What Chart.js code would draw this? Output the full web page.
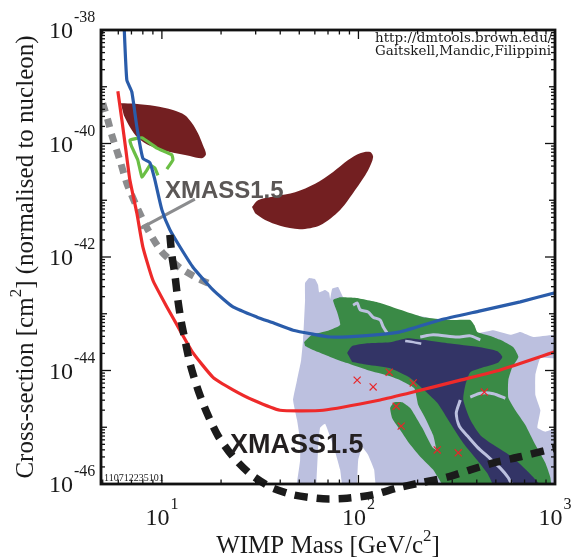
<!DOCTYPE html>
<html><head><meta charset="utf-8">
<script src="https://cdn.jsdelivr.net/npm/chart.js@4/dist/chart.umd.min.js"></script>
<style>html,body{margin:0;padding:0;background:#fff}canvas{display:block}</style>
</head><body>
<canvas id="c" width="571" height="557"></canvas>
<script>
// Axis ranges: WIMP mass [GeV/c^2] and cross-section [cm^2]
const massRange = [4.9, 1000];
const sigmaRange = [1e-46, 1e-38];
const massTicks = [10, 100, 1000];
const massTickExp = ['1', '2', '3'];
const sigmaTicks = [1e-38, 1e-40, 1e-42, 1e-44, 1e-46];
const sigmaTickExp = ['-38', '-40', '-42', '-44', '-46'];

// All curves and regions below: [mass in GeV, log10 of cross-section in cm^2]
const limitBlue = [[6.40,-37.8],[6.63,-38.88],[7.03,-39.09],[7.46,-39.71],[8.00,-40.26],[8.69,-40.34],[9.21,-40.64],[10.0,-41.17],[10.98,-41.52],[12.35,-41.82],[14.39,-42.18],[18.2,-42.58],[23.0,-42.88],[30.5,-43.06],[36.8,-43.16],[46.5,-43.29],[58.7,-43.36],[71.8,-43.41],[105.7,-43.39],[163,-43.32],[260.6,-43.11],[417,-42.95],[666,-42.79],[1000,-42.63]];
const limitRed = [[5.97,-39.08],[6.26,-39.59],[6.56,-40.12],[6.87,-40.64],[7.46,-41.23],[8.00,-41.82],[9.00,-42.41],[10.6,-42.88],[12.35,-43.29],[14.4,-43.69],[18.2,-44.12],[23.0,-44.34],[29.1,-44.52],[39.9,-44.70],[66.1,-44.70],[129,-44.52],[190,-44.38],[330,-44.17],[527,-43.99],[1000,-43.67]];
const xmassLowMass = [[5.0,-39.29],[5.31,-39.59],[5.56,-39.85],[6.11,-40.29],[6.63,-40.70],[7.46,-41.12],[8.49,-41.52],[10.0,-41.91],[12.35,-42.19],[15.1,-42.37],[17.98,-42.49]];
const xmassProjection = [[10.98,-41.61],[11.24,-41.97],[11.65,-42.32],[12.06,-42.76],[12.5,-43.11],[13.1,-43.46],[13.89,-43.87],[15.26,-44.34],[16.96,-44.75],[19.29,-45.15],[23.0,-45.52],[28.07,-45.82],[35.5,-46.05],[46.5,-46.19],[66.1,-46.26],[87.6,-46.25],[118.8,-46.19],[157.4,-46.07],[206.2,-45.98],[283.1,-45.88],[370.7,-45.75],[508.8,-45.61],[666.4,-45.52],[914.8,-45.40],[1000,-45.37]];
const damaLow = [[6.18,-39.29],[7.29,-39.30],[9.21,-39.34],[11.38,-39.41],[13.1,-39.50],[14.21,-39.64],[15.26,-39.82],[16.18,-40.03],[16.76,-40.19],[15.99,-40.26],[13.89,-40.22],[10.98,-40.15],[8.69,-40.04],[7.54,-39.90],[6.87,-39.71],[6.40,-39.50]];
const damaHigh = [[28.74,-41.12],[30.83,-41.00],[37.64,-40.93],[47.6,-40.86],[60.2,-40.71],[74.3,-40.50],[88.6,-40.29],[102.0,-40.17],[114.7,-40.15],[118.8,-40.24],[112.0,-40.47],[96.2,-40.82],[80.7,-41.17],[63.8,-41.44],[50.5,-41.51],[39.9,-41.45],[33.5,-41.35],[29.8,-41.23]];
const cogentContour = [[10.6,-40.45],[11.38,-40.29],[11.24,-40.20],[9.43,-40.08],[7.91,-39.90],[6.87,-39.94],[7.03,-40.06],[7.54,-40.29],[7.91,-40.59],[8.39,-40.47],[8.69,-40.38],[9.21,-40.43],[9.54,-40.56]];
const labelLeader = [[7.82,-41.49],[14.72,-40.98]];
const modelPoints = [[98.5,-44.17],[118.8,-44.29],[143.3,-44.03],[190.0,-44.22],[155.6,-44.63],[165.0,-44.98],[251.7,-45.40],[322.0,-45.45],[436.9,-44.38]];
const susyOuter = [[48.1,-46.1],[50.5,-45.58],[50.5,-45.23],[48.7,-44.87],[46.5,-44.52],[48.7,-44.17],[51.1,-43.82],[52.3,-43.46],[53.5,-42.76],[53.5,-42.46],[56.1,-42.37],[60.2,-42.39],[62.3,-42.49],[63.1,-42.62],[67.7,-42.58],[70.9,-42.63],[71.8,-42.74],[73.5,-42.56],[78.8,-42.53],[83.6,-42.71],[90.7,-42.76],[163.1,-42.97],[293.2,-43.15],[370.7,-43.25],[402.5,-43.34],[485.7,-43.29],[592.8,-43.37],[666.4,-43.32],[776.2,-43.41],[1050,-43.37],[1050,-43.78],[842.7,-43.78],[794.6,-44.08],[794.6,-44.43],[842.7,-44.70],[813.5,-45.01],[893.6,-45.08],[1050,-45.01],[1050,-46.1],[124.5,-46.1],[120.2,-45.75],[112.0,-45.49],[104.4,-45.35],[99.7,-45.58],[97.3,-46.1],[83.6,-46.1],[80.7,-45.75],[74.3,-45.31],[67.7,-44.94],[63.8,-45.01],[62.3,-45.40],[60.9,-46.1]];
const susyMiddle = [[52.9,-43.50],[58.1,-43.37],[70.1,-43.30],[80.7,-43.20],[77.9,-42.97],[74.3,-42.76],[80.7,-42.71],[96.2,-42.72],[129.0,-42.81],[163.1,-42.93],[213.6,-43.06],[303.7,-43.11],[370.7,-43.11],[388.6,-43.20],[402.5,-43.32],[468.9,-43.39],[527.0,-43.46],[613.8,-43.59],[651.0,-43.76],[606.7,-43.94],[578.8,-44.17],[578.8,-44.48],[628.4,-44.70],[706.8,-44.96],[794.6,-45.31],[893.6,-45.63],[947.6,-45.89],[947.6,-46.1],[283.1,-46.1],[240.1,-45.75],[206.2,-45.52],[179.1,-45.26],[163.1,-45.05],[148.5,-44.84],[145.0,-44.66],[152.0,-44.56],[167.0,-44.56],[183.4,-44.66],[192.2,-44.77],[211.1,-45.01],[237.3,-45.35],[248.8,-45.40],[240.1,-45.14],[218.7,-44.84],[201.4,-44.61],[192.2,-44.31],[163.1,-44.17],[145.0,-44.10],[110.7,-43.99],[87.6,-43.87],[71.8,-43.76],[58.8,-43.64],[53.5,-43.57]];
const susyCore = [[87.6,-43.69],[92.9,-43.57],[110.7,-43.52],[145.0,-43.50],[177.0,-43.43],[213.6,-43.46],[283.1,-43.52],[416.9,-43.59],[508.8,-43.66],[539.5,-43.76],[508.8,-43.87],[416.9,-43.96],[370.7,-44.03],[349.7,-44.26],[341.6,-44.52],[370.7,-44.87],[416.9,-45.14],[485.7,-45.31],[613.8,-45.54],[776.2,-45.88],[862.7,-46.1],[508.8,-46.1],[452.5,-45.81],[402.5,-45.58],[341.6,-45.28],[293.2,-44.93],[251.7,-44.57],[213.6,-44.33],[183.4,-44.13],[145.0,-43.96],[110.7,-43.90],[92.9,-43.85]];
const ridgeA = [[93.97,-42.85],[98.5,-42.81],[102.0,-42.93],[112.0,-42.97],[118.8,-43.06],[129.0,-43.11],[133.6,-43.23],[140.0,-43.34]];
const ridgeB = [[206.2,-43.41],[240.1,-43.37],[318.3,-43.41],[370.7,-43.39],[416.9,-43.46]];
const ridgeC = [[370.7,-44.47],[416.9,-44.40],[485.7,-44.41],[558.8,-44.49]];
const ridgeD = [[329.7,-44.52],[314.6,-44.75],[325.8,-44.98],[357.9,-45.15],[402.5,-45.35],[463.4,-45.54],[527.0,-45.72],[578.8,-45.89],[606.7,-46.04]];
const ridgeE = [[172.9,-43.48],[190.0,-43.50],[208.7,-43.53]];

const pts = arr => arr.map(([m, e]) => ({x: m, y: Math.pow(10, e)}));
const NONE = 'rgba(0,0,0,0)';
const LAV = '#bcc0df';

function curve(data, color, width, order, extra) {
  return Object.assign({data: pts(data), showLine: true, fill: false, borderColor: color,
    borderWidth: width, pointRadius: 0, tension: 0.25, order, borderCapStyle: 'butt',
    borderJoinStyle: 'round'}, extra || {});
}
function region(data, color, order, tension) {
  return {data: pts(data), showLine: true, fill: 'shape', backgroundColor: color,
    borderColor: NONE, borderWidth: 0, pointRadius: 0, tension: tension, order};
}

const datasets = [
  curve(xmassProjection, '#1b1b1b', 7.5, 1, {borderDash: [13, 9], clip: false}),
  curve(limitBlue, '#2a5caa', 3.2, 2, {tension: 0.15}),
  curve(limitRed, '#ee2a2a', 3.2, 3, {tension: 0.15}),
  curve(xmassLowMass, '#8b8c8e', 7, 4, {borderDash: [9, 7]}),
  curve(labelLeader, '#8b8c8e', 3, 5, {tension: 0}),
  curve(cogentContour, '#6bbf45', 3.2, 6, {tension: 0.1}),
  {data: pts(modelPoints), showLine: false, pointStyle: 'crossRot', pointRadius: 5,
   borderColor: '#e8262a', borderWidth: 1.2, backgroundColor: NONE, order: 7},
  region(damaLow, '#731f21', 8, 0.3),
  region(damaHigh, '#731f21', 8, 0.3),
  curve(ridgeD, LAV, 3, 9),
  curve(ridgeE, LAV, 2.5, 9),
  region(susyCore, '#333466', 10, 0.2),
  curve(ridgeA, LAV, 3, 11),
  curve(ridgeB, LAV, 3, 11),
  curve(ridgeC, LAV, 3, 11),
  region(susyMiddle, '#3a8a46', 12, 0.15),
  region(susyOuter, LAV, 13, 0.1)
];

const SERIF = '"Liberation Serif", "Times New Roman", serif';

const framePlugin = {
  id: 'frame',
  afterDraw(chart) {
    const {ctx, chartArea: a, scales: {x, y}} = chart;
    ctx.save();
    ctx.strokeStyle = '#111';
    ctx.lineWidth = 1.3;
    const seg = (x1, y1, x2, y2) => { ctx.beginPath(); ctx.moveTo(x1, y1); ctx.lineTo(x2, y2); ctx.stroke(); };
    // mass ticks, bottom and top, pointing inwards
    for (let d = 0; d <= 2; d++) {
      for (let k = 1; k <= 9; k++) {
        const v = k * Math.pow(10, d);
        if (v < massRange[0] || v > massRange[1]) continue;
        const px = x.getPixelForValue(v);
        const len = k === 1 ? 9 : 4.5;
        seg(px, a.bottom, px, a.bottom - len);
        seg(px, a.top, px, a.top + len);
      }
    }
    // cross-section ticks, left and right
    for (let d = -46; d < -38; d++) {
      for (let k = 1; k <= 9; k++) {
        const v = k * Math.pow(10, d);
        const py = y.getPixelForValue(v);
        const len = k === 1 ? (d % 2 === 0 ? 10 : 6) : 4;
        seg(a.left, py, a.left + len, py);
        seg(a.right, py, a.right - len, py);
      }
    }
    // box
    ctx.lineWidth = 2.8;
    ctx.strokeRect(a.left, a.top, a.right - a.left, a.bottom - a.top);

    ctx.fillStyle = '#1a1a1a';
    // y tick labels
    sigmaTicks.forEach((v, i) => {
      const py = y.getPixelForValue(v);
      ctx.font = '24px ' + SERIF;
      ctx.textAlign = 'right';
      ctx.textBaseline = 'alphabetic';
      ctx.fillText('10', a.left - 28, py + 8);
      ctx.font = '16px ' + SERIF;
      ctx.textAlign = 'left';
      ctx.fillText(sigmaTickExp[i], a.left - 27, py - 8);
    });
    // x tick labels
    massTicks.forEach((v, i) => {
      const px = x.getPixelForValue(v);
      ctx.font = '24px ' + SERIF;
      const w1 = ctx.measureText('10').width;
      ctx.font = '16px ' + SERIF;
      const w2 = ctx.measureText(massTickExp[i]).width;
      const x0 = px - (w1 + w2 + 1) / 2;
      ctx.textAlign = 'left';
      ctx.font = '24px ' + SERIF;
      ctx.fillText('10', x0, a.bottom + 41);
      ctx.font = '16px ' + SERIF;
      ctx.fillText(massTickExp[i], x0 + w1 + 1, a.bottom + 25);
    });

    // axis titles with a superscript 2
    const titled = (parts, cx, base) => {
      let total = 0;
      const widths = parts.map(p => { ctx.font = (p.sup ? '17px ' : '25px ') + SERIF; const w = ctx.measureText(p.t).width; total += w; return w; });
      let cur = cx - total / 2;
      parts.forEach((p, i) => {
        ctx.font = (p.sup ? '17px ' : '25px ') + SERIF;
        ctx.textAlign = 'left';
        ctx.fillText(p.t, cur, p.sup ? base - 12 : base);
        cur += widths[i];
      });
    };
    titled([{t: 'WIMP Mass [GeV/c'}, {t: '2', sup: true}, {t: ']'}], (a.left + a.right) / 2, 553);
    ctx.save();
    ctx.translate(33, (a.top + a.bottom) / 2);
    ctx.rotate(-Math.PI / 2);
    titled([{t: 'Cross-section [cm'}, {t: '2', sup: true}, {t: '] (normalised to nucleon)'}], 0, 0);
    ctx.restore();

    // in-plot annotations
    ctx.font = 'bold 24px "Liberation Sans", Arial, sans-serif';
    ctx.fillStyle = '#5b5756';
    ctx.fillText('XMASS1.5', x.getPixelForValue(10.36), y.getPixelForValue(Math.pow(10, -40.96)));
    ctx.font = 'bold 27px "Liberation Sans", Arial, sans-serif';
    ctx.fillStyle = '#231f20';
    ctx.fillText('XMASS1.5', x.getPixelForValue(22.2), y.getPixelForValue(Math.pow(10, -45.45)));

    // source credit, cut off by the right edge of the frame
    ctx.save();
    ctx.beginPath();
    ctx.rect(a.left, a.top, a.right - a.left - 2, a.bottom - a.top);
    ctx.clip();
    ctx.fillStyle = '#1a1a1a';
    ctx.font = '12px "DejaVu Serif", serif';
    ctx.translate(a.left + 274, a.top);
    ctx.scale(1.12, 1);
    ctx.fillText('http://dmtools.brown.edu/', 0, 12);
    ctx.fillText('Gaitskell,Mandic,Filippini', 0, 25);
    ctx.restore();

    ctx.fillStyle = '#1a1a1a';
    ctx.font = '10px ' + SERIF;
    ctx.fillText('110712235101', a.left + 3, a.bottom - 3);
    ctx.restore();
  }
};

new Chart(document.getElementById('c'), {
  type: 'scatter',
  data: {datasets},
  options: {
    responsive: false,
    animation: false,
    devicePixelRatio: 1,
    layout: {padding: {left: 101, top: 30, right: 16, bottom: 73}},
    plugins: {legend: {display: false}, tooltip: {enabled: false}},
    scales: {
      x: {type: 'logarithmic', min: massRange[0], max: massRange[1], display: false},
      y: {type: 'logarithmic', min: sigmaRange[0], max: sigmaRange[1], display: false}
    }
  },
  plugins: [framePlugin]
});
</script>
</body></html>
